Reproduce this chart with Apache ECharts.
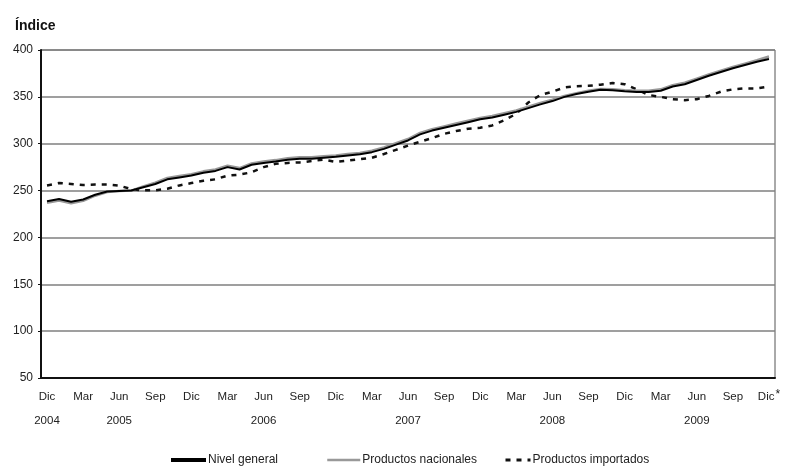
<!DOCTYPE html>
<html>
<head>
<meta charset="utf-8">
<script src="https://cdn.jsdelivr.net/npm/echarts@6/dist/echarts.min.js"></script>
<style>
  html, body { margin: 0; padding: 0; background: #fff; }
  #chart { width: 789px; height: 466px; }
</style>
</head>
<body>
<div id="chart"></div>
<script>
// meses Dic 2004 - Dic 2009
var categories = [
    'Dic 2004',
    'Ene 2005', 'Feb 2005', 'Mar 2005', 'Abr 2005', 'May 2005', 'Jun 2005', 'Jul 2005', 'Ago 2005', 'Sep 2005', 'Oct 2005', 'Nov 2005', 'Dic 2005',
    'Ene 2006', 'Feb 2006', 'Mar 2006', 'Abr 2006', 'May 2006', 'Jun 2006', 'Jul 2006', 'Ago 2006', 'Sep 2006', 'Oct 2006', 'Nov 2006', 'Dic 2006',
    'Ene 2007', 'Feb 2007', 'Mar 2007', 'Abr 2007', 'May 2007', 'Jun 2007', 'Jul 2007', 'Ago 2007', 'Sep 2007', 'Oct 2007', 'Nov 2007', 'Dic 2007',
    'Ene 2008', 'Feb 2008', 'Mar 2008', 'Abr 2008', 'May 2008', 'Jun 2008', 'Jul 2008', 'Ago 2008', 'Sep 2008', 'Oct 2008', 'Nov 2008', 'Dic 2008',
    'Ene 2009', 'Feb 2009', 'Mar 2009', 'Abr 2009', 'May 2009', 'Jun 2009', 'Jul 2009', 'Ago 2009', 'Sep 2009', 'Oct 2009', 'Nov 2009', 'Dic 2009'
];

// etiqueta de año debajo del mes
var yearLabels = {
    'Dic 2004': '2004',
    'Jun 2005': '2005',
    'Jun 2006': '2006',
    'Jun 2007': '2007',
    'Jun 2008': '2008',
    'Jun 2009': '2009'
};

var nivelGeneral = [
    238.5,
    241, 238, 240.5, 245.5, 249, 249.5, 250, 253.5, 257, 262, 264, 266,
    269, 271, 275, 272.5, 277.5, 279.5, 281, 283, 284, 284, 285, 286,
    287.5, 288.7, 291, 294.5, 299, 303.5, 310, 314, 317, 320, 323, 326,
    328, 331, 334, 338, 342, 345.5, 350, 353, 355.5, 357.5, 357, 356,
    355.3, 355.3, 356.5, 361, 363.5, 368, 372.5, 376.5, 380.5, 384, 387.5, 390.5
];

var productosNacionales = [
    237,
    239.5, 236.5, 239, 244.5, 248.5, 249.5, 250, 254.5, 258.5, 263.5, 265.5, 267.5,
    270.5, 272.5, 276.5, 274, 279, 281, 282.5, 284.5, 285.5, 285.5, 286.5, 287.5,
    289, 290, 292.5, 296, 300.5, 305, 311.5, 315.5, 318.5, 321.5, 324.5, 327.5,
    329.5, 332.5, 335.5, 339.5, 343.5, 347, 351, 354, 356.5, 358.5, 358, 357,
    356.5, 356.5, 358, 362.5, 365, 369.5, 374, 378, 382, 385.5, 389, 393
];

var productosImportados = [
    255.5,
    258, 257, 256, 256.4, 256.4, 255.3, 251.5, 250.3, 250.3, 252, 255.5, 258,
    260.5, 262, 266, 267, 269.5, 275, 278.5, 279.5, 280, 281.5, 283, 280.5,
    282, 283.5, 285, 289, 293.5, 298, 302, 306, 310.5, 313.5, 316, 317,
    319.5, 325, 332, 344, 352, 355.5, 360, 361.4, 361.8, 363, 364.8, 363.5,
    358, 352, 350, 347.5, 346.5, 347.5, 351, 355.5, 358, 359, 359, 361
];

var yTicks = { min: 50, max: 400, interval: 50 };

var fuente = '"Liberation Sans", Arial, sans-serif';

function leyenda(nombre, left, ancho, grosor) {
    return {
        data: [nombre],
        left: left,
        top: 454,
        padding: 0,
        itemWidth: ancho,
        itemHeight: 14,
        itemGap: 0,
        itemStyle: { opacity: 0 },
        lineStyle: { width: grosor },
        textStyle: { fontSize: 12, color: '#222', fontFamily: fuente, padding: [0, 0, 0, -3] }
    };
}

var chart = echarts.init(document.getElementById('chart'));

var option = {
    animation: false,
    backgroundColor: '#fff',
    textStyle: { fontFamily: fuente },
    title: {
        text: 'Índice',
        left: 10,
        top: 14,
        textStyle: { fontSize: 14, fontWeight: 'bold', color: '#111', fontFamily: fuente }
    },
    grid: {
        left: 41,
        right: 14,
        top: 50,
        bottom: 88,
        show: true,
        borderColor: '#555',
        borderWidth: 1
    },
    legend: [
        leyenda('Nivel general', 169, 35, 4),
        leyenda('Productos nacionales', 326, 33, 2.5),
        leyenda('Productos importados', 504, 25, 3)
    ],
    xAxis: {
        type: 'category',
        data: categories,
        boundaryGap: true,
        axisLine: { lineStyle: { color: '#111', width: 2 } },
        axisTick: { show: false },
        axisLabel: {
            interval: 2,
            margin: 7,
            color: '#222',
            fontSize: 11.5,
            lineHeight: 24,
            formatter: function(value) {
                var mes = value.split(' ')[0];
                var txt = value === 'Dic 2009' ? mes + '{a|*}' : mes;
                if (yearLabels[value]) {
                    txt += '\n' + yearLabels[value];
                }
                return txt;
            },
            rich: {
                a: { fontSize: 12, color: '#222', padding: [0, 0, 5, 1] }
            }
        },
        splitLine: { show: false }
    },
    yAxis: {
        type: 'value',
        min: yTicks.min,
        max: yTicks.max,
        interval: yTicks.interval,
        axisLine: { show: true, lineStyle: { color: '#111', width: 2 } },
        axisTick: { show: true, length: 3, lineStyle: { color: '#111' } },
        axisLabel: { color: '#222', fontSize: 12, margin: 8 },
        splitLine: { lineStyle: { color: '#7f7f7f', width: 1.5 } }
    },
    series: [
        {
            name: 'Productos importados',
            type: 'line',
            data: productosImportados,
            symbol: 'none',
            z: 2,
            lineStyle: { color: '#111', width: 2.5, type: [5, 6] },
            itemStyle: { color: '#111' }
        },
        {
            name: 'Productos nacionales',
            type: 'line',
            data: productosNacionales,
            symbol: 'none',
            z: 3,
            lineStyle: { color: '#999', width: 2.5 },
            itemStyle: { color: '#999' }
        },
        {
            name: 'Nivel general',
            type: 'line',
            data: nivelGeneral,
            symbol: 'none',
            z: 4,
            lineStyle: { color: '#000', width: 2 },
            itemStyle: { color: '#000' }
        }
    ]
};

chart.setOption(option);
</script>
</body>
</html>
